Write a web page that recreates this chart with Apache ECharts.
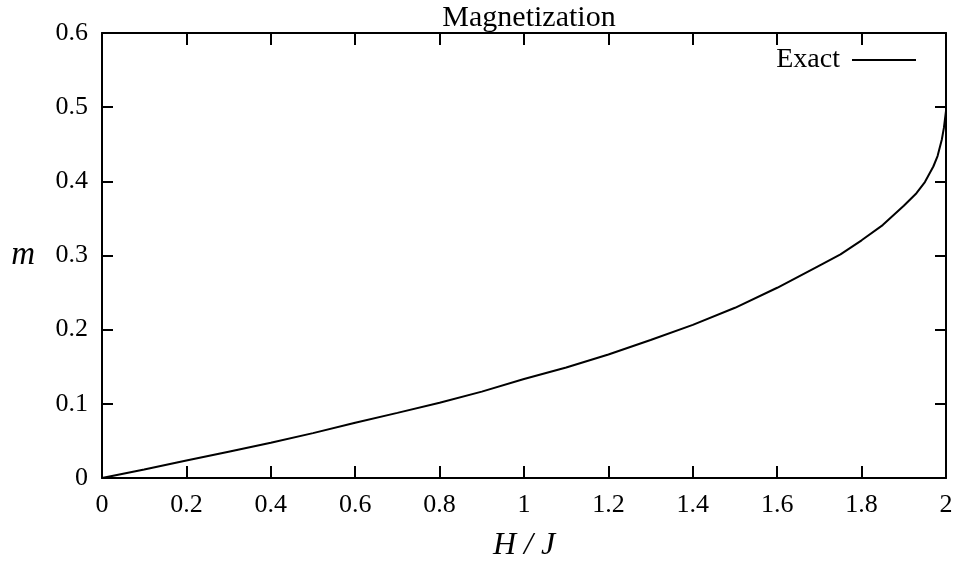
<!DOCTYPE html>
<html>
<head>
<meta charset="utf-8">
<script src="https://cdn.jsdelivr.net/npm/echarts@6/dist/echarts.min.js"></script>
<style>
html,body{margin:0;padding:0;background:#fff;}
#main{width:954px;height:562px;}
</style>
</head>
<body>
<div id="main"></div>
<script>
// H/J values and magnetization
var hValues = [0, 0.1, 0.2, 0.3, 0.4, 0.5, 0.6, 0.7, 0.8, 0.9, 1.0, 1.1, 1.2, 1.3, 1.4, 1.5, 1.6, 1.7, 1.75, 1.8, 1.85, 1.9, 1.93, 1.95, 1.97, 1.98, 1.99, 1.995, 2.0];
var mValues = [0, 0.0115, 0.0235, 0.0355, 0.0476, 0.0605, 0.0745, 0.0878, 0.1015, 0.1165, 0.1335, 0.149, 0.1665, 0.186, 0.2065, 0.2295, 0.2565, 0.2865, 0.3015, 0.3205, 0.341, 0.367, 0.384, 0.399, 0.42, 0.434, 0.456, 0.472, 0.495];
var seriesName = "Exact";

var serif = "'Liberation Serif', 'DejaVu Serif', serif";
var black = "#000";

var points = [];
for (var i = 0; i < hValues.length; i++) {
	points.push([hValues[i], mValues[i]]);
}

// mirrored axes (top / right) only carry ticks, like gnuplot
function tickAxis(pos, interval, max, len, showLabel) {
	return {
		type: 'value',
		position: pos,
		min: 0,
		max: max,
		interval: interval,
		axisLine: {show: true, onZero: false, lineStyle: {color: black, width: 2}},
		axisTick: {show: true, inside: true, length: len, lineStyle: {color: black, width: 2}},
		axisLabel: {show: showLabel, color: black, fontFamily: serif, fontSize: 26, margin: 14},
		splitLine: {show: false}
	};
}

var xBottom = tickAxis('bottom', 0.2, 2, 12, true);
xBottom.name = 'H / J';
xBottom.nameLocation = 'middle';
xBottom.nameGap = 52;
xBottom.nameTextStyle = {color: black, fontFamily: serif, fontStyle: 'italic', fontSize: 32};
var xTop = tickAxis('top', 0.2, 2, 12, false);

var yLeft = tickAxis('left', 0.1, 0.6, 11, true);
yLeft.name = 'm';
yLeft.nameLocation = 'middle';
yLeft.nameRotate = 0;
yLeft.nameGap = 67;
yLeft.nameTextStyle = {color: black, fontFamily: serif, fontStyle: 'italic', fontSize: 33};
var yRight = tickAxis('right', 0.1, 0.6, 11, false);

var myChart = echarts.init(document.getElementById('main'));
var option = {
	animation: false,
	backgroundColor: '#fff',
	title: {
		text: 'Magnetization',
		left: 524,
		textAlign: 'center',
		top: -2,
		textStyle: {color: black, fontFamily: serif, fontWeight: 'normal', fontSize: 30}
	},
	legend: {
		data: [seriesName],
		right: 33,
		top: 41,
		align: 'right',
		icon: 'rect',
		itemWidth: 64,
		itemHeight: 2,
		textStyle: {color: black, fontFamily: serif, fontSize: 28, padding: [0, 7, 0, 0]}
	},
	grid: {left: 102, right: 8, top: 33, bottom: 84, outerBoundsMode: 'none', containLabel: false},
	xAxis: [xBottom, xTop],
	yAxis: [yLeft, yRight],
	series: [
		{
			name: seriesName,
			type: 'line',
			xAxisIndex: 0,
			yAxisIndex: 0,
			data: points,
			showSymbol: false,
			smooth: false,
			lineStyle: {color: black, width: 2},
			itemStyle: {color: black}
		}
	]
};
myChart.setOption(option);
</script>
</body>
</html>
